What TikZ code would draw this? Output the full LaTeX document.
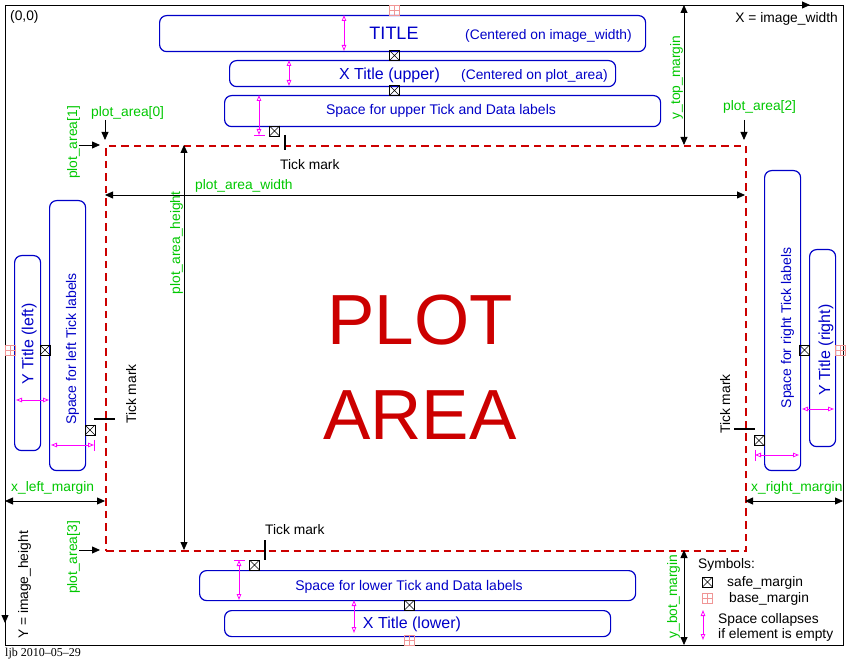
\documentclass[tikz,border=0pt]{standalone}
\usepackage{fontspec}
\setmainfont{Liberation Sans}
\newfontfamily\datefont{Liberation Serif}
\usetikzlibrary{arrows.meta}
\definecolor{boxblue}{RGB}{0,0,200}
\definecolor{lblgreen}{RGB}{0,200,0}
\definecolor{plotred}{RGB}{204,0,0}
\definecolor{basepink}{RGB}{240,150,150}
\definecolor{collapsemag}{RGB}{255,0,255}
\newcommand{\myfs}[1]{\fontsize{#1}{#1}\selectfont}
\begin{document}
\begin{tikzpicture}[x=1pt,y=-1pt,
  regbox/.style={draw=boxblue, line width=1.2pt, rounded corners=7pt, inner sep=0pt, anchor=north west},
  boxtxt/.style={text=boxblue, inner sep=0pt, font=\myfs{14}},
  bigtxt/.style={text=boxblue, inner sep=0pt, font=\myfs{16}},
  lbl/.style={text=lblgreen, inner sep=0pt, font=\myfs{13.8}},
  txt/.style={text=black, inner sep=0pt, font=\myfs{13.8}},
  dimarrow/.style={black, line width=0.8pt, {Triangle[length=8pt,width=7pt]}-{Triangle[length=8pt,width=7pt]}},
  ptrarrow/.style={black, line width=0.8pt, -{Triangle[length=8pt,width=7pt]}},
  tickmark/.style={black, line width=2pt},
  safesym/.style={draw=black, line width=0.6pt, minimum size=10pt, inner sep=0pt,
    path picture={\draw[black,line width=0.6pt] (path picture bounding box.south west) -- (path picture bounding box.north east) (path picture bounding box.north west) -- (path picture bounding box.south east);}},
  basesym/.style={draw=basepink, line width=0.8pt, minimum size=10pt, inner sep=0pt,
    path picture={\draw[basepink,line width=0.8pt] (path picture bounding box.south) -- (path picture bounding box.north) (path picture bounding box.west) -- (path picture bounding box.east);}},
  collarrow/.style={collapsemag, line width=0.8pt, {Triangle[open,length=6pt,width=4.5pt]}-{Triangle[open,length=6pt,width=4.5pt]}},
  collbar/.style={collapsemag, line width=0.8pt}
]
\useasboundingbox (0,0) rectangle (847,660);
\fill[white] (0,0) rectangle (847,660);

% image frame
\node[draw=black, line width=1pt, inner sep=0pt, anchor=north west, minimum width=838pt, minimum height=640pt] (frame) at (5,5) {};
\coordinate (xend) at (810,5);
\coordinate (yend) at (5,623);
\draw[ptrarrow] (frame.north west) -- (xend);
\draw[ptrarrow] (frame.north west) -- (yend);
\node[txt, anchor=base west] (origin) at (10,21) {(0,0)};
\node[txt, anchor=base east] (xw) at (838,23) {X = image\_width};
\node[txt, rotate=90, anchor=base] (yh) at (28,585) {Y = image\_height};
\node[inner sep=0pt, anchor=base west, font=\datefont\myfs{12}] (date) at (5,656) {ljb 2010–05–29};

% plot area
\node[draw=plotred, line width=2pt, dash pattern=on 7.5pt off 5pt, inner sep=0pt, anchor=north west, minimum width=640pt, minimum height=405pt] (plot) at (105,145) {};
\node[text=plotred, inner sep=0pt, align=center, font=\fontsize{71}{95}\selectfont] (plottxt) at (420,367) {PLOT\\AREA};

% boxes
\node[regbox, minimum width=486pt, minimum height=36pt] (title) at (159,15) {};
\node[regbox, minimum width=386pt, minimum height=26pt] (xtu) at (229,60) {};
\node[regbox, minimum width=436pt, minimum height=31pt] (uptick) at (224,95) {};
\node[regbox, minimum width=26pt, minimum height=195pt] (ytl) at (14,255) {};
\node[regbox, minimum width=36pt, minimum height=270pt] (lefttick) at (49,200) {};
\node[regbox, minimum width=36pt, minimum height=300pt] (righttick) at (764,170) {};
\node[regbox, minimum width=26pt, minimum height=197pt] (ytr) at (809,249) {};
\node[regbox, minimum width=436pt, minimum height=30pt] (lowtick) at (199,570) {};
\node[regbox, minimum width=386pt, minimum height=26pt] (xtl) at (224,610) {};

% box texts
\node[text=boxblue, inner sep=0pt, font=\myfs{18}, anchor=base] (titletxt) at (394,40) {TITLE};
\node[boxtxt, font=\myfs{13.8}, anchor=base west] (titlenote) at (465,40) {(Centered on image\_width)};
\node[bigtxt, anchor=base] (xtutxt) at (389.5,80) {X Title (upper)};
\node[boxtxt, font=\myfs{13.8}, anchor=base west] (xtunote) at (461,80) {(Centered on plot\_area)};
\node[boxtxt, anchor=base] (uptxt) at (441,115) {Space for upper Tick and Data labels};
\node[boxtxt, anchor=base] (lowtxt) at (409,590) {Space for lower Tick and Data labels};
\node[bigtxt, anchor=base] (xtltxt) at (412,628) {X Title (lower)};
\node[bigtxt, rotate=90, anchor=base] (ytltxt) at (33.5,344) {Y Title (left)};
\node[boxtxt, rotate=90, anchor=base] (lefttxt) at (76,349) {Space for left Tick labels};
\node[boxtxt, rotate=90, anchor=base] (righttxt) at (791,328) {Space for right Tick labels};
\node[bigtxt, rotate=90, anchor=base] (ytrtxt) at (830,350) {Y Title (right)};

% safe margins
\node[safesym] (s1) at (394.5,55.5) {};
\node[safesym] (s2) at (394.5,90.5) {};
\node[safesym] (s3) at (274.5,131) {};
\node[safesym] (s4) at (45,350) {};
\node[safesym] (s5) at (90,430) {};
\node[safesym] (s6) at (804.5,350) {};
\node[safesym] (s7) at (759,440.5) {};
\node[safesym] (s8) at (254.5,565) {};
\node[safesym] (s9) at (409.5,605) {};
% base margins
\node[basesym] (b1) at (394.5,10) {};
\node[basesym] (b2) at (10,350) {};
\node[basesym] (b3) at (840,350) {};
\node[basesym] (b4) at (409.5,640.5) {};

% tick marks
\draw[tickmark] (285,135) -- (285,150);
\draw[tickmark] (94,419) -- (115,419);
\draw[tickmark] (734,429) -- (755,429);
\draw[tickmark] (265,540) -- (265,560);
\node[txt, anchor=base west] (tm1) at (280,170) {Tick mark};
\node[txt, anchor=base west] (tm2) at (265,535) {Tick mark};
\node[txt, rotate=90, anchor=base] (tm3) at (136,394) {Tick mark};
\node[txt, rotate=90, anchor=base] (tm4) at (730,404) {Tick mark};

% collapse arrows
\draw[collarrow] (344,15) -- (344,51);
\draw[collarrow] (289,60) -- (289,86);
\draw[collarrow] (259,95) -- (259,135);
\draw[collbar] (254,135) -- (265,135);
\draw[collarrow] (16,400) -- (49,400);
\draw[collarrow] (51,445) -- (94,445);
\draw[collbar] (94,440) -- (94,451);
\draw[collarrow] (755,455) -- (799,455);
\draw[collbar] (755,450) -- (755,461);
\draw[collarrow] (802,409) -- (834,409);
\draw[collarrow] (239,560) -- (239,600);
\draw[collbar] (234,560) -- (245,560);
\draw[collarrow] (354,600) -- (354,633);

% dimension arrows
\coordinate (pwl) at (105,195); \coordinate (pwr) at (745,195);
\coordinate (pht) at (184,145); \coordinate (phb) at (184,550);
\coordinate (ytt) at (684,5);   \coordinate (ytb) at (684,145);
\coordinate (ybt) at (684,550); \coordinate (ybb) at (684,645);
\coordinate (xll) at (5,501);   \coordinate (xlr) at (105,501);
\coordinate (xrl) at (745,501); \coordinate (xrr) at (843,501);
\draw[dimarrow] (pwl) -- (pwr);
\draw[dimarrow] (pht) -- (phb);
\draw[dimarrow] (ytt) -- (ytb);
\draw[dimarrow] (ybt) -- (ybb);
\draw[dimarrow] (xll) -- (xlr);
\draw[dimarrow] (xrl) -- (xrr);
\coordinate (p0s) at (105,120); \coordinate (p0e) at (105,140);
\coordinate (p1s) at (79,145);  \coordinate (p1e) at (100,145);
\coordinate (p2s) at (744,120); \coordinate (p2e) at (744,140);
\coordinate (p3s) at (79,550);  \coordinate (p3e) at (100,550);
\draw[ptrarrow] (p0s) -- (p0e);
\draw[ptrarrow] (p1s) -- (p1e);
\draw[ptrarrow] (p2s) -- (p2e);
\draw[ptrarrow] (p3s) -- (p3e);

% green labels
\node[lbl, anchor=base west] (pa0) at (91,117) {plot\_area[0]};
\node[lbl, rotate=90, anchor=base] (pa1) at (77,142.5) {plot\_area[1]};
\node[lbl, anchor=base west] (pa2) at (723,111) {plot\_area[2]};
\node[lbl, rotate=90, anchor=base] (pa3) at (77,557.5) {plot\_area[3]};
\node[lbl, anchor=base west] (paw) at (195,190) {plot\_area\_width};
\node[lbl, rotate=90, anchor=base] (pah) at (180,243) {plot\_area\_height};
\node[lbl, rotate=90, anchor=base] (ytm) at (680,77.5) {y\_top\_margin};
\node[lbl, rotate=90, anchor=base] (ybm) at (677,596.5) {y\_bot\_margin};
\node[lbl, anchor=base west] (xlm) at (11,492) {x\_left\_margin};
\node[lbl, anchor=base west] (xrm) at (751,492) {x\_right\_margin};

% legend
\node[txt, anchor=base west] (sym) at (698,568) {Symbols:};
\node[safesym] (ls) at (707.5,582) {};
\node[txt, anchor=base west] (lst) at (727,586) {safe\_margin};
\node[basesym] (lb) at (707.5,598) {};
\node[txt, anchor=base west] (lbt) at (729,602) {base\_margin};
\draw[collarrow] (703,610) -- (703,640);
\node[txt, anchor=base west] (lc1) at (718,623) {Space collapses};
\node[txt, anchor=base west] (lc2) at (718,638) {if element is empty};
\end{tikzpicture}
\end{document}
